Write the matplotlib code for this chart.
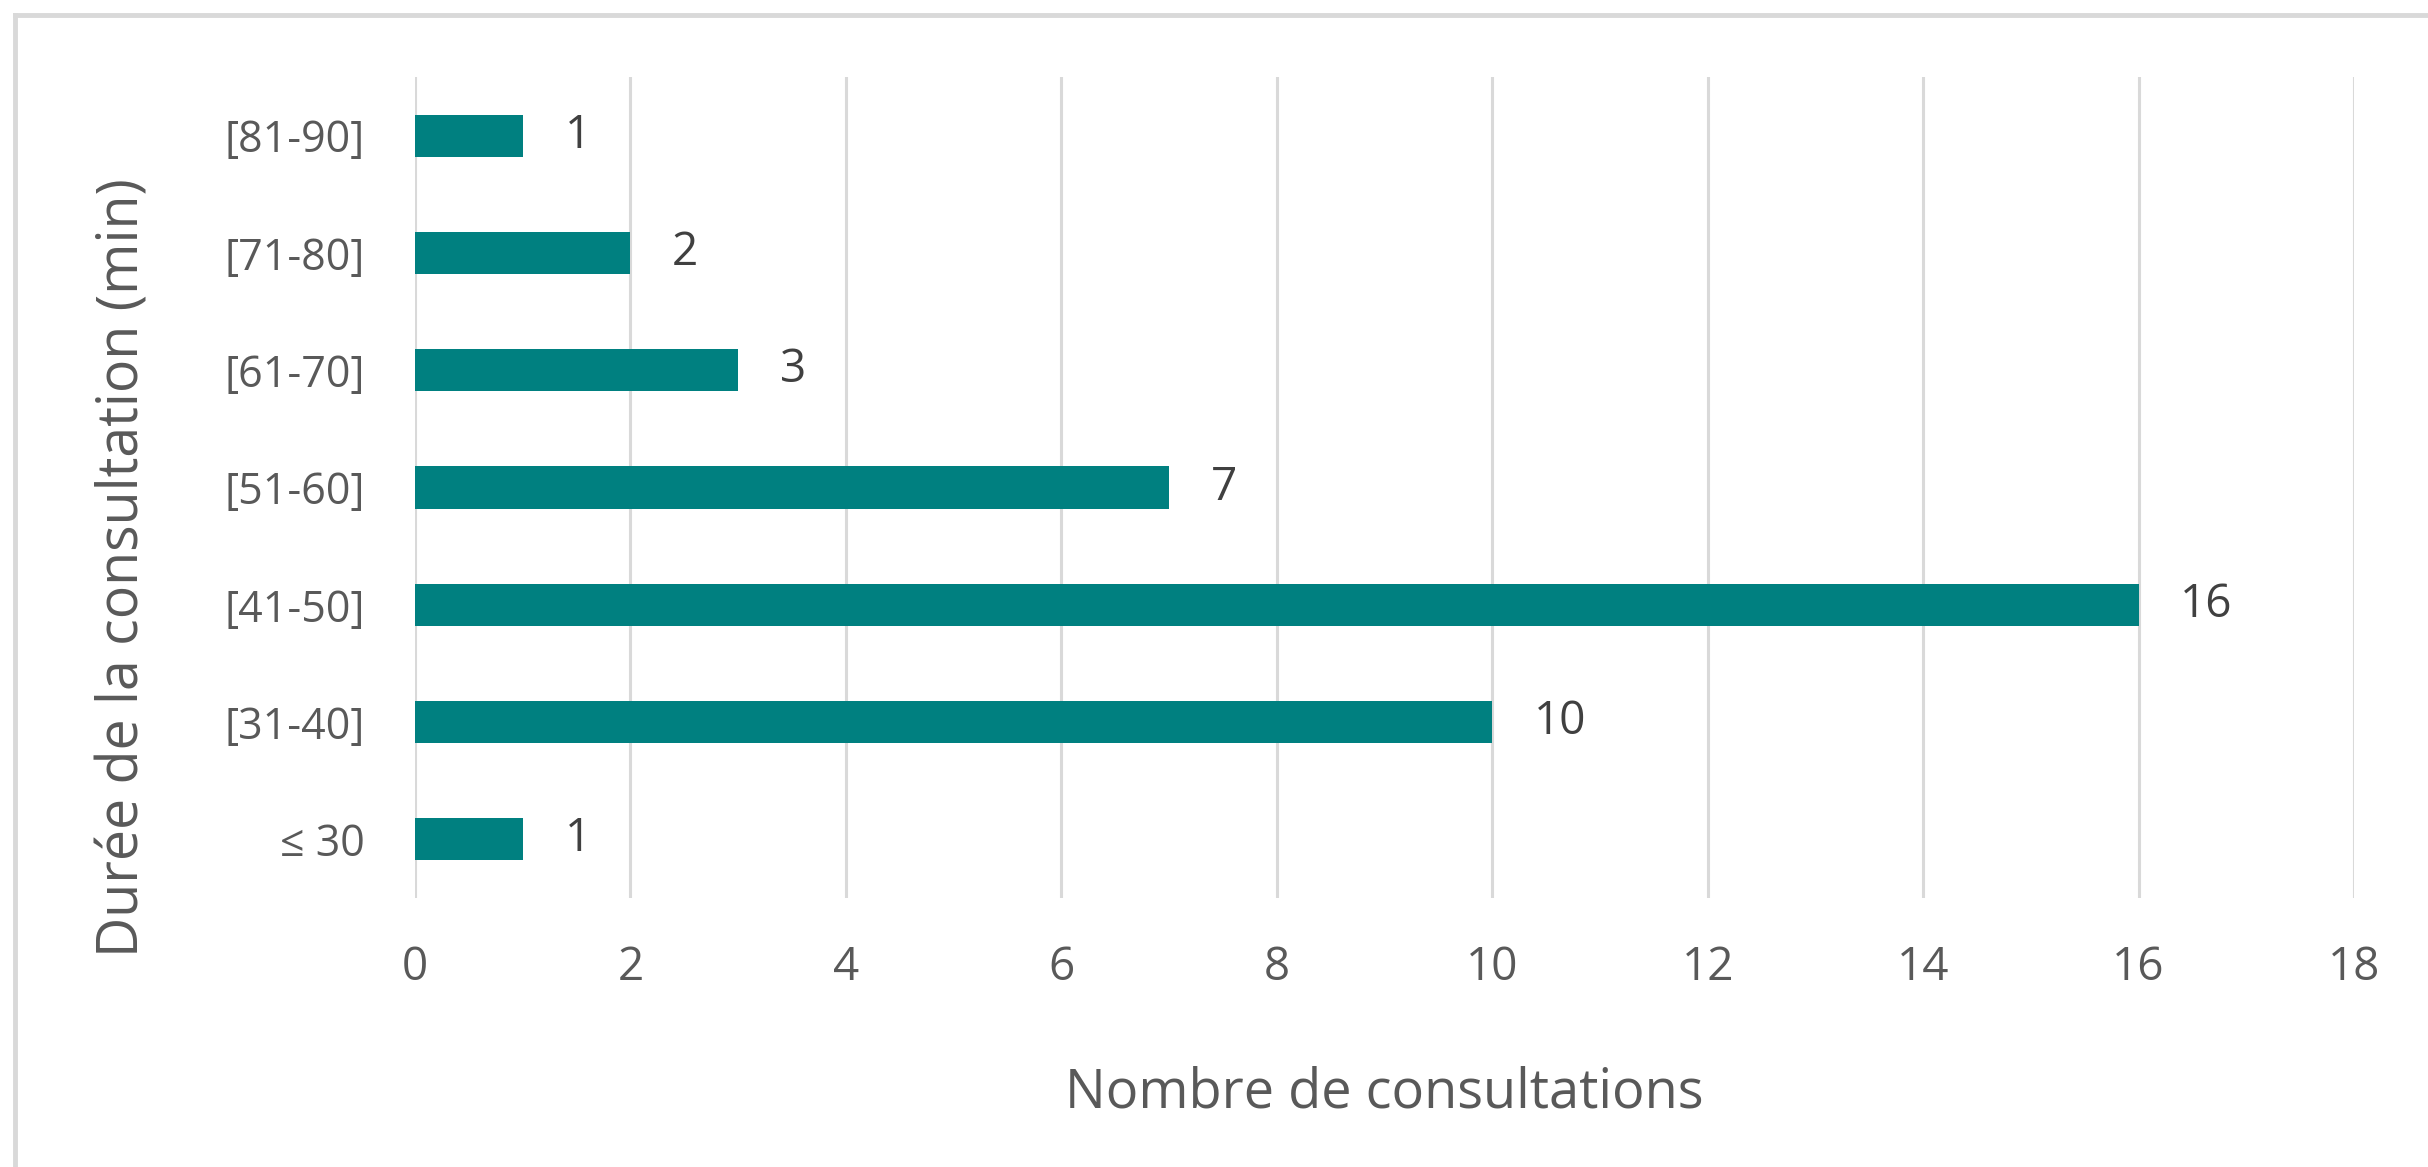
import matplotlib.pyplot as plt
from matplotlib.lines import Line2D

categories = ['≤ 30', '[31-40]', '[41-50]', '[51-60]', '[61-70]', '[71-80]', '[81-90]']
counts = [1, 10, 16, 7, 3, 2, 1]
xticks = [0, 2, 4, 6, 8, 10, 12, 14, 16, 18]

plt.rcParams['font.family'] = ['Open Sans', 'DejaVu Sans']

W, H = 2428, 1167
fig = plt.figure(figsize=(W / 100, H / 100), dpi=100)
ax = fig.add_axes([415 / W, 1 - 898 / H, (2354 - 415) / W, (898 - 77) / H])

ypos = list(range(len(categories)))
ax.barh(ypos, counts, height=0.36, color='#008080', zorder=3)

for y, v in zip(ypos, counts):
    ax.annotate(str(v), xy=(v, y), xytext=(30, 0), textcoords='offset points',
                ha='left', va='center', fontsize=33, color='#404040')

ax.set_xlim(0, 18)
ax.set_ylim(-0.5, len(categories) - 0.5)
ax.set_xticks(xticks)
ax.set_yticks(ypos)
ax.set_yticklabels(categories)
ax.tick_params(axis='both', length=0, labelsize=33, labelcolor='#595959')
ax.tick_params(axis='y', pad=36, labelsize=31)
ax.tick_params(axis='x', pad=34)
ax.grid(axis='x', color='#d9d9d9', linewidth=2.2, zorder=0)
ax.set_axisbelow(True)
for s in ax.spines.values():
    s.set_visible(False)

ax.set_xlabel('Nombre de consultations', fontsize=39, color='#595959')
ax.set_ylabel('Durée de la consultation (min)', fontsize=40, color='#595959')
ax.xaxis.set_label_coords(0.5, -0.238)
ax.xaxis.label.set_va('center')
ax.yaxis.set_label_coords(-0.15, 0.402)
ax.yaxis.label.set_va('center')

# outer chart frame (cropped at right and bottom)
fig.add_artist(Line2D([15 / W, 1], [1 - 15 / H, 1 - 15 / H], color='#d9d9d9', linewidth=3.5))
fig.add_artist(Line2D([15 / W, 15 / W], [0, 1 - 15 / H], color='#d9d9d9', linewidth=3.5))

fig.savefig('out.png', dpi=100, facecolor='white')
